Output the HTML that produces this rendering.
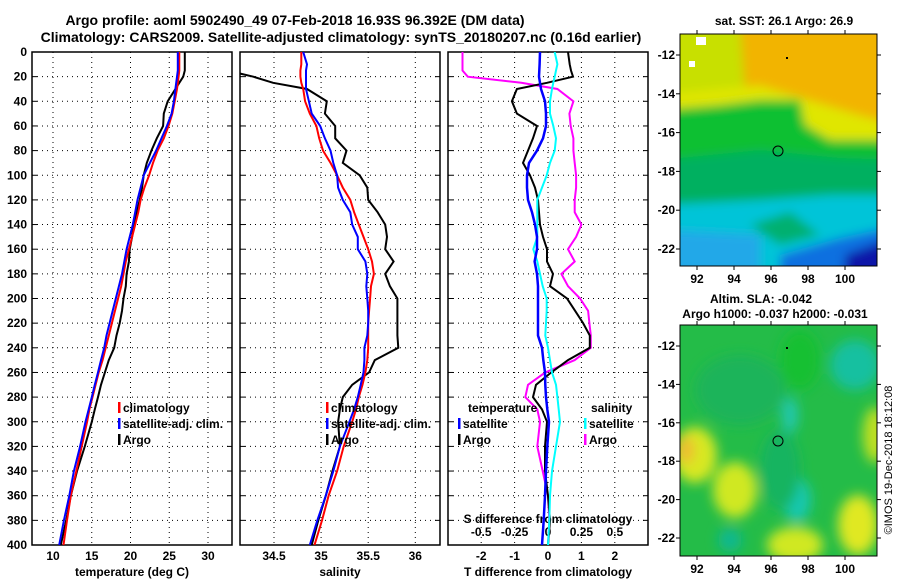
<!DOCTYPE html>
<html><head><meta charset="utf-8"><style>
body{margin:0;background:#fff}
svg{display:block;font-family:"Liberation Sans",sans-serif;font-weight:bold}
</style></head><body>
<svg id="c" width="900" height="580" viewBox="0 0 900 580" xmlns="http://www.w3.org/2000/svg">
<defs>
<filter id="blur1" x="-20%" y="-20%" width="140%" height="140%"><feGaussianBlur stdDeviation="5"/></filter>
<filter id="blur2" x="-20%" y="-20%" width="140%" height="140%"><feGaussianBlur stdDeviation="6"/></filter>
<clipPath id="cm1"><rect x="680" y="34" width="197" height="232"/></clipPath>
<clipPath id="cm2"><rect x="680" y="325" width="197" height="231"/></clipPath>
<clipPath id="cp1"><rect x="32" y="52" width="200" height="493"/></clipPath>
<clipPath id="cp2"><rect x="240" y="52" width="200" height="493"/></clipPath>
<clipPath id="cp3"><rect x="448" y="52" width="200" height="493"/></clipPath>
</defs>
<text x="295" y="25" font-size="14" text-anchor="middle">Argo profile: aoml 5902490_49 07-Feb-2018 16.93S 96.392E (DM data)</text>
<text x="341" y="42" font-size="14" text-anchor="middle">Climatology: CARS2009. Satellite-adjusted climatology: synTS_20180207.nc (0.16d earlier)</text>
<text x="784" y="25" font-size="12" text-anchor="middle">sat. SST: 26.1 Argo: 26.9</text>
<text x="761" y="303" font-size="12" text-anchor="middle">Altim. SLA: -0.042</text>
<text x="775" y="318" font-size="12" text-anchor="middle">Argo h1000: -0.037 h2000: -0.031</text>
<text x="892" y="460" font-size="11" font-weight="normal" text-anchor="middle" transform="rotate(-90 892 460)">©IMOS 19-Dec-2018 18:12:08</text>

<!-- SST map -->
<g clip-path="url(#cm1)">
<rect x="680" y="34" width="197" height="232" fill="#f2b400"/>
<g filter="url(#blur1)">
<path d="M660 20 L740 20 L745 90 L700 110 L660 110Z" fill="#c8e000"/>
<path d="M660 95 L760 85 L860 115 L900 125 L900 160 L660 160Z" fill="#e0e600"/>
<path d="M660 110 L720 105 L760 100 L800 100 L805 125 L830 140 L880 140 L900 145 L900 300 L660 300Z" fill="#10c030"/>
<path d="M660 160 L760 150 L840 158 L900 160 L900 300 L660 300Z" fill="#00b060"/>
<path d="M660 205 L760 200 L830 195 L900 195 L900 300 L660 300Z" fill="#00c4d8"/>
<path d="M660 230 L760 235 L760 300 L660 300Z" fill="#20a8e8"/>
<path d="M780 255 L840 238 L900 225 L900 300 L780 300Z" fill="#1070e0"/>
<path d="M845 255 L900 235 L900 300 L845 300Z" fill="#0818a8"/>
<path d="M750 225 L790 212 L820 235 L780 245Z" fill="#00b070"/>
</g>
<rect x="696" y="37" width="10" height="8" fill="#fff"/>
<rect x="689" y="61" width="6" height="6" fill="#fff"/>
</g>
<rect x="680" y="34" width="197" height="232" fill="none" stroke="#000"/>
<circle cx="778" cy="151" r="5" fill="none" stroke="#000"/>
<rect x="786" y="57" width="2" height="2" fill="#000"/>

<!-- SLA map -->
<g clip-path="url(#cm2)">
<rect x="680" y="325" width="197" height="231" fill="#24bc48"/>
<g filter="url(#blur2)">
<ellipse cx="740" cy="390" rx="45" ry="35" fill="#1cb45a"/>
<ellipse cx="800" cy="360" rx="20" ry="30" fill="#18c030"/>
<ellipse cx="855" cy="365" rx="25" ry="25" fill="#18c0a0"/>
<ellipse cx="790" cy="415" rx="8" ry="18" fill="#20c8b0"/>
<ellipse cx="797" cy="500" rx="14" ry="22" fill="#18c8b0"/>
<ellipse cx="730" cy="540" rx="12" ry="12" fill="#10b890"/>
<ellipse cx="780" cy="470" rx="20" ry="40" fill="#18b460"/>
<ellipse cx="695" cy="455" rx="22" ry="28" fill="#d8e820"/>
<ellipse cx="686" cy="450" rx="8" ry="14" fill="#f0b830"/>
<ellipse cx="735" cy="490" rx="22" ry="28" fill="#d0e820"/>
<ellipse cx="795" cy="545" rx="28" ry="18" fill="#d0e820"/>
<ellipse cx="858" cy="525" rx="20" ry="30" fill="#e0e820"/>
<ellipse cx="875" cy="435" rx="12" ry="28" fill="#c0e020"/>
</g>
</g>
<rect x="680" y="325" width="197" height="231" fill="none" stroke="#000"/>
<circle cx="778" cy="441" r="5" fill="none" stroke="#000"/>
<rect x="786" y="347" width="2" height="2" fill="#000"/>

<g id="plots"></g>
</svg>
<script>
// Depth levels (m)
const depths = [0,10,15,20,25,30,40,50,60,70,80,90,100,110,120,130,140,150,160,170,180,190,200,210,220,230,240,250,260,270,280,290,300,320,340,360,380,400];
// Temperature (deg C)
const tempArgo = [27.0,27.0,27.0,26.8,26.3,25.8,24.8,24.3,24.2,23.4,22.7,22.1,21.7,21.5,21.2,20.8,20.4,20.2,19.9,19.8,19.5,19.4,19.1,18.9,18.6,18.2,17.9,17.2,16.7,16.2,15.8,15.4,15.0,14.1,13.1,12.3,11.7,11.0];
const tempSat  = [26.1,26.1,26.1,26.0,25.9,25.8,25.6,25.3,24.7,24.0,23.3,22.5,21.7,21.3,20.9,20.6,20.3,19.9,19.5,19.2,18.9,18.5,18.1,17.7,17.3,16.9,16.6,16.2,15.8,15.4,15.0,14.6,14.2,13.5,12.7,12.1,11.4,10.8];
const tempClim = [26.3,26.3,26.3,26.2,26.1,26.0,25.7,25.4,24.9,24.3,23.5,22.9,22.4,21.8,21.3,21.0,20.6,20.2,19.8,19.4,19.1,18.8,18.4,18.0,17.6,17.2,16.8,16.4,15.9,15.5,15.1,14.7,14.4,13.7,13.0,12.3,11.8,11.35];
// Salinity
const salArgo = [34.0,34.0,34.0,34.28,34.49,34.85,35.06,35.04,35.15,35.15,35.27,35.23,35.41,35.49,35.5,35.6,35.68,35.7,35.68,35.77,35.68,35.73,35.81,35.81,35.81,35.81,35.82,35.57,35.51,35.33,35.23,35.2,35.18,35.2,35.12,35.05,34.97,34.9];
const salSat  = [34.81,34.85,34.84,34.84,34.84,34.84,34.87,34.9,34.99,35.04,35.1,35.13,35.17,35.18,35.23,35.31,35.33,35.39,35.39,35.47,35.49,35.48,35.49,35.5,35.5,35.49,35.46,35.46,35.45,35.42,35.39,35.35,35.3,35.2,35.13,35.05,34.96,34.88];
const salClim = [34.79,34.79,34.78,34.78,34.79,34.81,34.83,34.88,34.95,34.98,35.02,35.1,35.17,35.23,35.31,35.35,35.4,35.45,35.5,35.54,35.56,35.53,35.52,35.51,35.5,35.5,35.5,35.49,35.47,35.44,35.4,35.37,35.33,35.24,35.17,35.08,35.01,34.93];
// Differences from climatology
const tdiffArgo = [0.6,0.65,0.69,0.75,-0.03,-0.93,-1.08,-0.93,-0.33,-0.45,-0.6,-0.75,-0.54,-0.39,-0.3,-0.27,-0.24,-0.15,-0.03,-0.03,0.15,0.06,0.57,0.81,1.05,1.25,1.25,0.6,0.1,-0.36,-0.45,-0.18,-0.03,-0.09,-0.09,0.0,0.06,0.0];
const tdiffSat  = [-0.24,-0.25,-0.26,-0.27,-0.24,-0.21,-0.09,-0.06,-0.06,-0.15,-0.33,-0.57,-0.63,-0.63,-0.6,-0.48,-0.39,-0.33,-0.33,-0.4,-0.33,-0.3,-0.3,-0.3,-0.3,-0.3,-0.18,-0.14,-0.09,-0.08,-0.06,-0.02,0.03,-0.02,-0.06,-0.09,-0.13,-0.18];
const sdiffSat  = [0.05,0.07,0.06,0.05,0.04,0.03,0.015,0.015,0.04,0.06,0.05,0.015,-0.01,-0.045,-0.08,-0.08,-0.08,-0.08,-0.11,-0.08,-0.06,-0.04,-0.01,-0.01,-0.015,-0.02,0.0,0.015,0.03,0.06,0.07,0.08,0.09,0.06,0.03,0.015,0.01,0.0];
const sdiffArgo = [-0.64,-0.64,-0.64,-0.6,-0.2,0.07,0.19,0.16,0.17,0.19,0.19,0.2,0.21,0.21,0.2,0.2,0.25,0.21,0.15,0.2,0.1,0.15,0.24,0.3,0.31,0.32,0.32,0.2,-0.02,-0.15,-0.17,-0.08,-0.06,-0.08,-0.04,0.0,0.01,0.0];
// Tick labels
const depthTicks = [0,20,40,60,80,100,120,140,160,180,200,220,240,260,280,300,320,340,360,380,400];
const tempTicks = [10,15,20,25,30];
const salTicks = [34.5,35,35.5,36];
const tdTicks = [-2,-1,0,1,2];
const sdTicks = [-0.5,-0.25,0,0.25,0.5];
const sdTickLabels = ["-0.5","-0.25","0","0.25","0.5"];
const lonTicks = [92,94,96,98,100];
const latTicks = [-12,-14,-16,-18,-20,-22];

const NS="http://www.w3.org/2000/svg";
const root=document.getElementById('plots');
function el(tag,attrs,parent){const e=document.createElementNS(NS,tag);for(const k in attrs)e.setAttribute(k,attrs[k]);(parent||root).appendChild(e);return e;}
const y=d=>52+d*493/400;
const xT=v=>53+(v-10)*7.75;
const xS=v=>274+(v-34.5)*94.2;
const xTD=v=>548+v*33.4;
const xSD=v=>548+v*133.6;
const lonX=l=>697+(l-92)*18.5;
const latY1=l=>55+(-12-l)*19.4;
const latY2=l=>346+(-12-l)*19.2;

function panel(x0,name,ticks,fx,labels,title){
  const g=el('g',{});
  
  
  depthTicks.forEach(d=>{
    if(d>0&&d<400){const l=el('line',{x1:x0,x2:x0+200,y1:y(d),y2:y(d),stroke:'#000','stroke-dasharray':'1 4'},g);
    
    }
    el('line',{x1:x0,x2:x0+5,y1:y(d),y2:y(d),stroke:'#000'},g);
    el('line',{x1:x0+195,x2:x0+200,y1:y(d),y2:y(d),stroke:'#000'},g);
  });
  ticks.forEach((t,i)=>{
    const l=el('line',{x1:fx(t),x2:fx(t),y1:52,y2:545,stroke:'#000','stroke-dasharray':'1 4'},g);
    
    
    const tx=el('text',{x:fx(t),y:560,'font-size':12,'text-anchor':'middle'},g);
    tx.textContent=labels?labels[i]:String(t);
    
    
  });
  const r=el('rect',{x:x0,y:52,width:200,height:493,fill:'none',stroke:'#000','stroke-width':1.5},g);
  
  
  const tt=el('text',{x:x0+100,y:576,'font-size':12,'text-anchor':'middle'},g);
  tt.textContent=title;
  
  
  return g;
}
function series(vals,fx,color,clip,name,w){
  const pts=vals.map((v,i)=>fx(v).toFixed(1)+','+y(depths[i]).toFixed(1)).join(' ');
  const p=el('polyline',{points:pts,fill:'none',stroke:color,'stroke-width':w||2,'clip-path':'url(#'+clip+')'});
  
  
}
function legend(x,yy,color,label,name){
  if(color){el('rect',{x:x,y:yy-10,width:2.5,height:11,fill:color});}
  const t=el('text',{x:x+5,y:yy,'font-size':12});
  t.textContent=label;
  
  
}

depthTicks.forEach(d=>{
  const t=el('text',{x:27,y:y(d)+4,'font-size':12,'text-anchor':'end'});
  t.textContent=d;
  
  
});

panel(32,'temperature-panel',tempTicks,xT,null,'temperature (deg C)');
panel(240,'salinity-panel',salTicks,xS,['34.5','35','35.5','36'],'salinity');
panel(448,'difference-panel',tdTicks,xTD,null,'T difference from climatology');
sdTicks.forEach((t,i)=>{
  const tx=el('text',{x:xSD(t),y:536,'font-size':12,'text-anchor':'middle'});
  tx.textContent=sdTickLabels[i];
  
  
});
const sdt=el('text',{x:548,y:523,'font-size':12,'text-anchor':'middle'});
sdt.textContent='S difference from climatology';



series(tempArgo,xT,'#000','cp1','temp-argo-line',2);
series(tempClim,xT,'#f00','cp1','temp-climatology-line');
series(tempSat,xT,'#00f','cp1','temp-satellite-line');
series(salArgo,xS,'#000','cp2','sal-argo-line',2);
series(salClim,xS,'#f00','cp2','sal-climatology-line');
series(salSat,xS,'#00f','cp2','sal-satellite-line');
series(sdiffArgo,xSD,'#f0f','cp3','sdiff-argo-line');
series(tdiffArgo,xTD,'#000','cp3','tdiff-argo-line',2);
series(sdiffSat,xSD,'#0ff','cp3','sdiff-satellite-line');
series(tdiffSat,xTD,'#00f','cp3','tdiff-satellite-line',2.5);

legend(118,412,'#f00','climatology','legend-climatology');
legend(118,428,'#00f','satellite-adj. clim.','legend-satellite');
legend(118,444,'#000','Argo','legend-argo');
legend(326,412,'#f00','climatology','legend-climatology-2');
legend(326,428,'#00f','satellite-adj. clim.','legend-satellite-2');
legend(326,444,'#000','Argo','legend-argo-2');
legend(463,412,null,'temperature','legend-temperature-heading');
legend(458,428,'#00f','satellite','legend-t-satellite');
legend(458,444,'#000','Argo','legend-t-argo');
legend(586,412,null,'salinity','legend-salinity-heading');
legend(584,428,'#0ff','satellite','legend-s-satellite');
legend(584,444,'#f0f','Argo','legend-s-argo');

function mapAxes(top,bot,fy,name){
  lonTicks.forEach(l=>{
    el('line',{x1:lonX(l),x2:lonX(l),y1:top,y2:top-4,stroke:'#000'});
    el('line',{x1:lonX(l),x2:lonX(l),y1:bot,y2:bot+4,stroke:'#000'});
    const t=el('text',{x:lonX(l),y:bot+17,'font-size':12,'text-anchor':'middle'});
    t.textContent=l;
    
    
  });
  latTicks.forEach(l=>{
    el('line',{x1:676,x2:680,y1:fy(l),y2:fy(l),stroke:'#000'});
    el('line',{x1:877,x2:881,y1:fy(l),y2:fy(l),stroke:'#000'});
    const t=el('text',{x:675,y:fy(l)+4,'font-size':12,'text-anchor':'end'});
    t.textContent=l;
    
    
  });
}
mapAxes(34,266,latY1,'sst-map');
mapAxes(325,556,latY2,'sla-map');
</script>
</body></html>
